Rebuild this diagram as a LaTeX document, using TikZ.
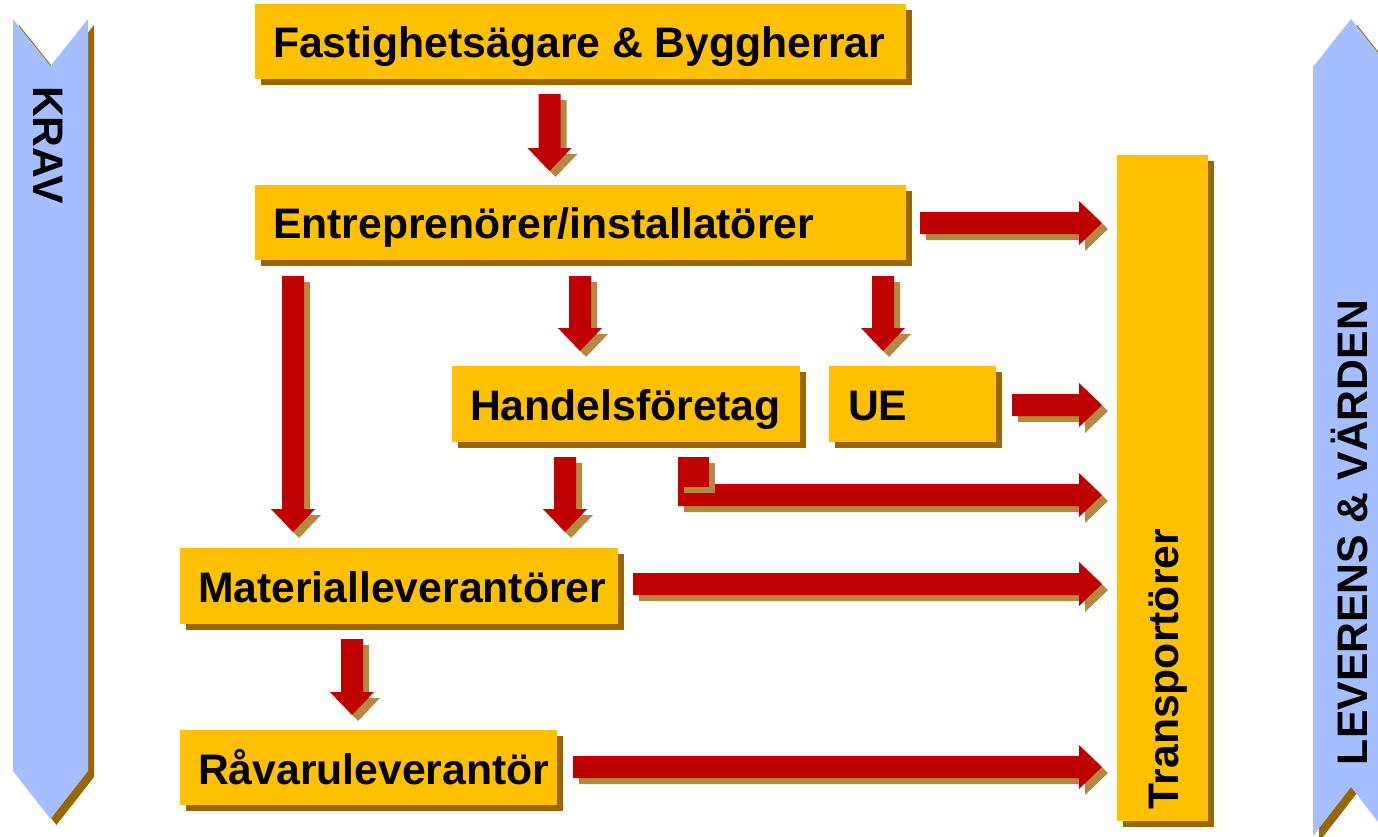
\documentclass[tikz,border=0pt]{standalone}
\usepackage{fontspec}
\setmainfont{Liberation Sans}
\usetikzlibrary{calc,shadows}
\definecolor{korange}{HTML}{FFC000}
\definecolor{kshadow}{HTML}{996600}
\definecolor{kred}{HTML}{C00000}
\definecolor{kashadow}{HTML}{B5883F}
\definecolor{kblue}{HTML}{A4BEFF}
\newcommand\DArr[4]{%
  \fill[#4] let \p1=($(#1)+(#3,#3)$), \p2=($(#2)+(#3,#3)$) in
    (\x1-11pt,\y1) -- (\x1+11pt,\y1) -- (\x1+11pt,\y2+23pt) -- (\x1+22pt,\y2+23pt)
    -- (\x1,\y2) -- (\x1-22pt,\y2+23pt) -- (\x1-11pt,\y2+23pt) -- cycle;}
\newcommand\DownArrow[2]{\DArr{#1}{#2}{6}{kashadow}\DArr{#1}{#2}{0}{kred}}
\newcommand\RArr[4]{%
  \fill[#4] let \p1=($(#1)+(#3,#3)$), \p2=($(#2)+(#3,#3)$) in
    (\x1,\y1+11pt) -- (\x2-23pt,\y1+11pt) -- (\x2-23pt,\y1+22pt) -- (\x2,\y1)
    -- (\x2-23pt,\y1-22pt) -- (\x2-23pt,\y1-11pt) -- (\x1,\y1-11pt) -- cycle;}
\newcommand\RightArrow[2]{\RArr{#1}{#2}{6}{kashadow}\RArr{#1}{#2}{0}{kred}}
\begin{document}
\begin{tikzpicture}[x=1pt,y=-1pt,
  box/.style={fill=korange, draw=none, inner sep=0pt, outer sep=0pt, anchor=north west,
    general shadow={fill=kshadow, shadow xshift=6pt, shadow yshift=-6pt}},
  lbl/.style={font=\fontsize{42.7}{50}\selectfont\bfseries, inner sep=0pt, outer sep=0pt, anchor=base west, text=black}]
\useasboundingbox (0,0) rectangle (1378,836);

% side chevrons
\fill[kshadow, shift={(6,6)}] (13,19) -- (50.5,66) -- (88,19) -- (88,771) -- (50.5,819) -- (13,771) -- cycle;
\fill[kblue] (13,19) -- (50.5,66) -- (88,19) -- (88,771) -- (50.5,819) -- (13,771) -- cycle;
\fill[kshadow, shift={(6,6)}] (1313,67) -- (1351,19) -- (1389,67) -- (1389,836) -- (1351,787) -- (1313,836) -- cycle;
\fill[kblue] (1313,67) -- (1351,19) -- (1389,67) -- (1389,836) -- (1351,787) -- (1313,836) -- cycle;
\node[lbl, rotate=-90] (krav) at (33,86) {KRAV};
\node[lbl, rotate=90] (lev) at (1367,765) {LEVERENS \& VÄRDEN};

% boxes
\node[box, minimum width=651pt, minimum height=75pt] (fast) at (255,4) {};
\node[box, minimum width=651pt, minimum height=75pt] (ent) at (255,185) {};
\node[box, minimum width=348pt, minimum height=76pt] (hand) at (452,366) {};
\node[box, minimum width=167pt, minimum height=76pt] (ue) at (829,366) {};
\node[box, minimum width=438pt, minimum height=76pt] (mat) at (180,548) {};
\node[box, minimum width=377pt, minimum height=75pt] (rav) at (180,730) {};
\node[box, minimum width=91pt, minimum height=666pt] (trans) at (1117,155) {};

\node[lbl] (tfast) at (273,57.5) {Fastighetsägare \& Byggherrar};
\node[lbl] (tent) at (273,238.5) {Entreprenörer/installatörer};
\node[lbl] (thand) at (470,420) {Handelsföretag};
\node[lbl] (tue) at (848,420) {UE};
\node[lbl] (tmat) at (198,602) {Materialleverantörer};
\node[lbl] (trav) at (198,784) {Råvaruleverantör};
\node[lbl, rotate=90] (ttrans) at (1178,809) {Transportörer};

% arrows
\DownArrow{549.5,94}{549.5,171}
\DownArrow{293,276}{293,532}
\DownArrow{580,276}{580,351}
\DownArrow{883,276}{883,351}
\DownArrow{565,457}{565,532}
\DownArrow{352,639}{352,715}

\RightArrow{920,223}{1102,223}
\RightArrow{1012,405}{1102,405}
\RightArrow{678,495}{1102,495}
\RightArrow{633,584}{1102,584}
\RightArrow{573,767}{1102,767}

% bent start of the Handelsföretag arrow
\fill[kashadow] (684,463) rectangle (715,493);
\fill[kred] (678,457) rectangle (709,487);
\end{tikzpicture}
\end{document}
